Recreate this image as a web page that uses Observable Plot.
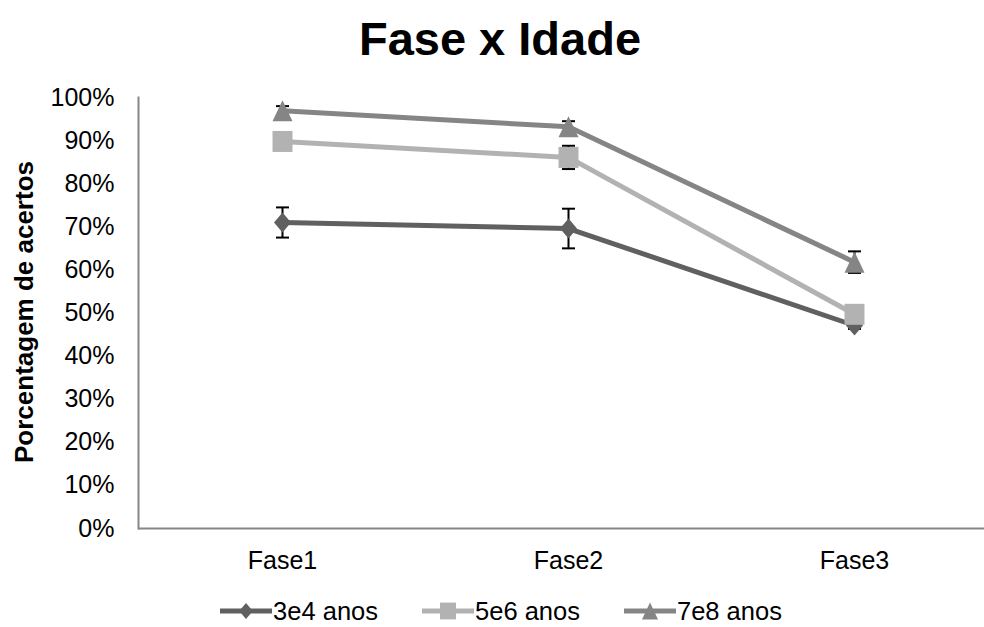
<!DOCTYPE html>
<html>
<head>
<meta charset="utf-8">
<script src="https://cdn.jsdelivr.net/npm/d3@7"></script>
<script src="https://cdn.jsdelivr.net/npm/@observablehq/plot@0.6"></script>
<style>
  body { margin: 0; background: #fff; font-family: "Liberation Sans", Arial, sans-serif; }
  #wrap { position: relative; width: 984px; height: 627px; overflow: hidden; }
  #chart { position: absolute; left: 0; top: 0; }
  #title { position: absolute; left: 0; top: 15px; width: 1000px; text-align: center;
           font-weight: bold; font-size: 47px; line-height: 1; color: #000; }
  #ylabel { position: absolute; left: -176px; top: 297px; width: 400px; height: 30px; line-height: 30px;
            text-align: center; font-weight: bold; font-size: 26px; transform: rotate(-90deg); color: #000; }
  #legend { position: absolute; left: 0; top: 596px; width: 1002px; display: flex; justify-content: center;
            gap: 44px; font-size: 25.5px; line-height: 30px; color: #000; }
  .item { display: flex; align-items: center; }
  .item svg { display: block; margin-right: 1px; }
</style>
</head>
<body>
<div id="wrap">
  <div id="chart"></div>
  <div id="title">Fase x Idade</div>
  <div id="ylabel">Porcentagem de acertos</div>
  <div id="legend"></div>
</div>
<script>
// ---- data ----
const fases = ["Fase1", "Fase2", "Fase3"];
const seriesNames = ["3e4 anos", "5e6 anos", "7e8 anos"];
const values34 = [0.710, 0.696, 0.471];
const errors34 = [0.035, 0.046, 0.008];
const values56 = [0.898, 0.861, 0.497];
const errors56 = [0.012, 0.027, 0.010];
const values78 = [0.969, 0.932, 0.618];
const errors78 = [0.011, 0.013, 0.025];
const yTicks = [0, 0.1, 0.2, 0.3, 0.4, 0.5, 0.6, 0.7, 0.8, 0.9, 1.0];

const colors = ["#606060", "#b2b2b2", "#858585"];

// marker shapes (Excel-like, bbox centred)
const diamond = { draw(c) { c.moveTo(0, -10); c.lineTo(8.5, 0); c.lineTo(0, 10); c.lineTo(-8.5, 0); c.closePath(); } };
const square = { draw(c) { c.moveTo(-10, -10.5); c.lineTo(10, -10.5); c.lineTo(10, 10.5); c.lineTo(-10, 10.5); c.closePath(); } };
const triangle = { draw(c) { c.moveTo(0, -10.5); c.lineTo(10, 10.5); c.lineTo(-10, 10.5); c.closePath(); } };
const cap = { draw(c) { c.moveTo(-6.5, 0); c.lineTo(6.5, 0); } };
const symbols = [diamond, square, triangle];

const allValues = [values34, values56, values78];
const allErrors = [errors34, errors56, errors78];
const series = seriesNames.map((name, s) =>
  fases.map((f, i) => ({ serie: name, fase: f, v: allValues[s][i], e: allErrors[s][i] }))
);

const marks = [
  Plot.frame({ anchor: "left", stroke: "#868686", strokeWidth: 2 }),
  Plot.ruleY([0], { stroke: "#868686", strokeWidth: 2 })
];
series.forEach((rows, s) => {
  marks.push(
    Plot.ruleX(rows, { x: "fase", y1: d => d.v - d.e, y2: d => d.v + d.e, stroke: "#000", strokeWidth: 2 }),
    Plot.dot(rows, { x: "fase", y: d => d.v + d.e, symbol: cap, stroke: "#000", strokeWidth: 2, fill: "none" }),
    Plot.dot(rows, { x: "fase", y: d => d.v - d.e, symbol: cap, stroke: "#000", strokeWidth: 2, fill: "none" }),
    Plot.line(rows, { x: "fase", y: "v", stroke: colors[s], strokeWidth: 5 }),
    Plot.dot(rows, { x: "fase", y: "v", symbol: symbols[s], fill: colors[s], stroke: "none" })
  );
});

const chart = Plot.plot({
  width: 984,
  height: 627,
  marginTop: 97,
  marginBottom: 99,
  marginLeft: 138,
  marginRight: 0,
  style: { fontFamily: "'Liberation Sans', Arial, sans-serif", fontSize: "25px", color: "#000", background: "transparent" },
  x: { type: "point", domain: fases, range: [138, 998], padding: 0.5, label: null, tickSize: 0, tickPadding: 23 },
  y: { domain: [0, 1], ticks: yTicks, tickFormat: d3.format(".0%"), tickSize: 0, tickPadding: 24, label: null },
  marks
});
document.getElementById("chart").appendChild(chart);

// legend
const legend = document.getElementById("legend");
seriesNames.forEach((name, s) => {
  const item = document.createElement("div");
  item.className = "item";
  const ns = "http://www.w3.org/2000/svg";
  const svg = document.createElementNS(ns, "svg");
  svg.setAttribute("width", "52");
  svg.setAttribute("height", "30");
  const line = document.createElementNS(ns, "line");
  line.setAttribute("x1", "0"); line.setAttribute("x2", "52");
  line.setAttribute("y1", "15"); line.setAttribute("y2", "15");
  line.setAttribute("stroke", colors[s]); line.setAttribute("stroke-width", "5");
  svg.appendChild(line);
  const p = d3.path();
  symbols[s].draw(p);
  const path = document.createElementNS(ns, "path");
  path.setAttribute("d", p.toString());
  path.setAttribute("transform", "translate(26,15) scale(0.8)");
  path.setAttribute("fill", colors[s]);
  svg.appendChild(path);
  item.appendChild(svg);
  const t = document.createElement("span");
  t.textContent = name;
  item.appendChild(t);
  legend.appendChild(item);
});
</script>
</body>
</html>
